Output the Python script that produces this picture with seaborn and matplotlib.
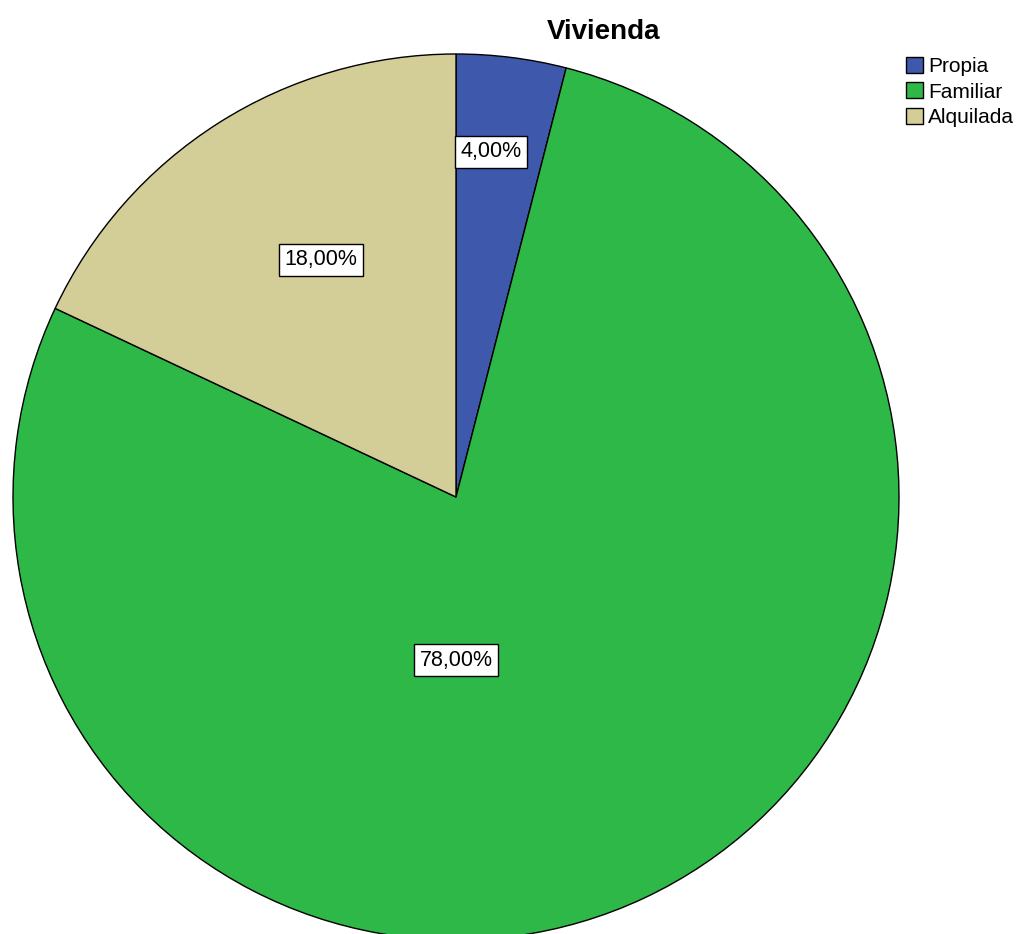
import matplotlib
matplotlib.use("Agg")
from matplotlib import pyplot as plt
import seaborn as sns

# Данные графика
categories = ["Propia", "Familiar", "Alquilada"]
percentages = [4.0, 78.0, 18.0]
labels = ["4,00%", "78,00%", "18,00%"]
colors = ["#3E58AC", "#2EB848", "#D3CE97"]

sns.set_style("white")
plt.rcParams["font.family"] = ["Liberation Sans", "DejaVu Sans"]
plt.rcParams["text.color"] = "black"

fig = plt.figure(figsize=(10.22, 9.34), dpi=100)
ax = fig.add_axes([13 / 1022, (934 - 497 - 443) / 934, 886 / 1022, 886 / 934])

wedges, _ = ax.pie(percentages, colors=colors, startangle=90, counterclock=False,
                   wedgeprops=dict(edgecolor="black", linewidth=1.0))
ax.set_xlim(-1, 1)
ax.set_ylim(-1, 1)
ax.set_aspect("auto")

# позиции подписей (в долях радиуса), как в SPSS
label_pos = [(0.08, 0.779), (0.0, -0.368), (-0.305, 0.535)]
for lab, (x, y) in zip(labels, label_pos):
    ax.text(x, y, lab, ha="center", va="center", fontsize=15.5, color="black",
            bbox=dict(boxstyle="square,pad=0.25", fc="white", ec="black", lw=1.0))

fig.text(604 / 1022, 1 - 32 / 934, "Vivienda", ha="center", va="center",
         fontsize=20, fontweight="bold", color="black")

fig.legend(wedges, categories, loc="upper left", bbox_to_anchor=(906 / 1022, 1 - 57 / 934),
           frameon=False, fontsize=15, handlelength=0.8, handleheight=0.8,
           handletextpad=0.25, labelspacing=0.3, borderaxespad=0, borderpad=0)

fig.savefig("out.png", dpi=100)
